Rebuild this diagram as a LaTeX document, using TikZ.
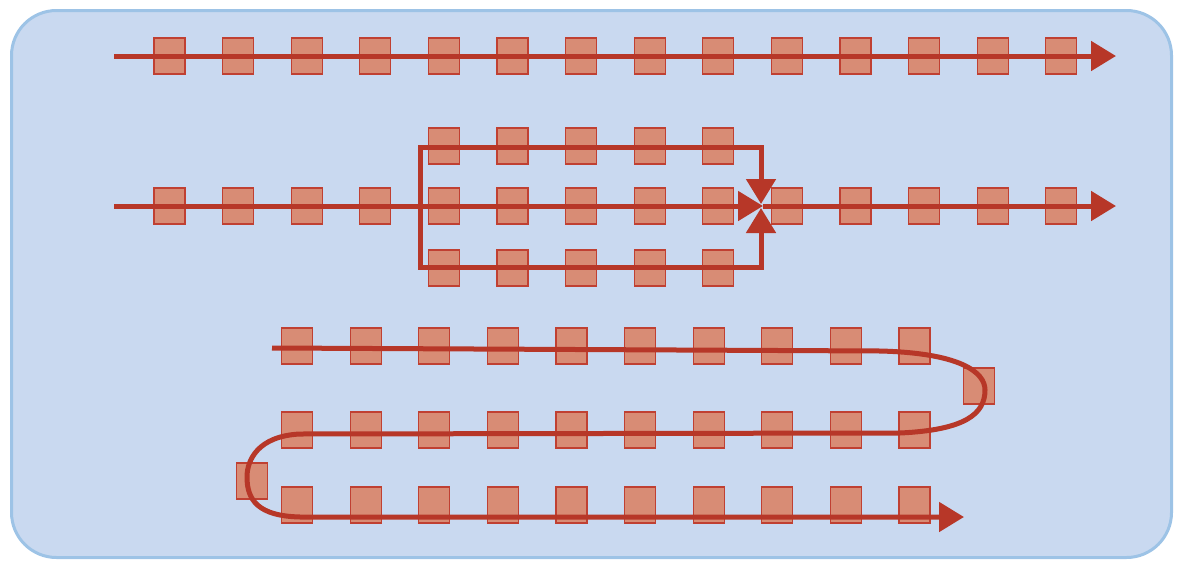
\documentclass[tikz,border=0pt]{standalone}
\usetikzlibrary{arrows.meta}
\definecolor{bgfill}{RGB}{201,217,240}
\definecolor{bgline}{RGB}{157,195,230}
\definecolor{sqfill}{RGB}{216,140,117}
\definecolor{sqline}{RGB}{192,64,50}
\definecolor{flow}{RGB}{183,55,40}
\tikzset{
  sq/.style={draw=sqline, fill=sqfill, line width=1.2pt, minimum width=31pt, minimum height=36pt, inner sep=0pt, outer sep=0pt},
  flowline/.style={draw=flow, line width=5pt},
  tip/.style={-{Triangle[length=25pt,width=29pt]}},
}
\begin{document}
\begin{tikzpicture}[x=1pt,y=-1pt]
\useasboundingbox (0,0) rectangle (1183,562);
\node[draw=bgline, fill=bgfill, line width=3pt, rounded corners=45pt, minimum width=1160pt, minimum height=547pt, inner sep=0pt] (bg) at (591.5,284) {};
% row 1
\foreach \i in {0,...,13} {
  \node[sq] (a\i) at ({169.5+68.6*\i},56) {};
}
\coordinate (a-start) at (114,56);
\coordinate (a-end) at (1116,56);
\draw[flowline, tip] (a-start) -- (a-end);
% row 2 main
\foreach \i in {0,...,13} {
  \node[sq] (b\i) at ({169.5+68.6*\i},206) {};
}
\foreach \i in {4,...,8} {
  \node[sq] (u\i) at ({169.5+68.6*\i},146) {};
  \node[sq] (l\i) at ({169.5+68.6*\i},268) {};
}
\coordinate (b-start) at (114,206);
\coordinate (split) at (420,206);
\coordinate (merge) at (763,206);
\coordinate (b-end) at (1116,206);
\coordinate (up-tip) at (761,204);
\coordinate (lo-tip) at (761,208);
\draw[flowline, tip] (b-start) -- (merge);
\draw[flowline, tip] (merge) -- (b-end);
\draw[flowline, tip] (split) |- (761,147) -- (up-tip);
\draw[flowline, tip] (split) |- (761,267) -- (lo-tip);
% row 3 serpentine
\foreach \i in {0,...,9} {
  \node[sq] (c\i) at ({297+68.6*\i},346) {};
  \node[sq] (d\i) at ({297+68.6*\i},430) {};
  \node[sq] (e\i) at ({297+68.6*\i},505) {};
}
\node[sq] (cr) at (979,386) {};
\node[sq] (dl) at (252,481) {};
\coordinate (c-start) at (272,348);
\coordinate (c-end) at (964,517);
\draw[flowline, tip, line join=round] (c-start) -- (880,351)
  .. controls (960,353) and (985,372) .. (985,390)
  .. controls (985,414) and (965,430) .. (900,433)
  -- (300,434)
  .. controls (258,436) and (247,460) .. (247,477)
  .. controls (247,500) and (258,516) .. (300,517)
  -- (c-end);
\end{tikzpicture}
\end{document}
